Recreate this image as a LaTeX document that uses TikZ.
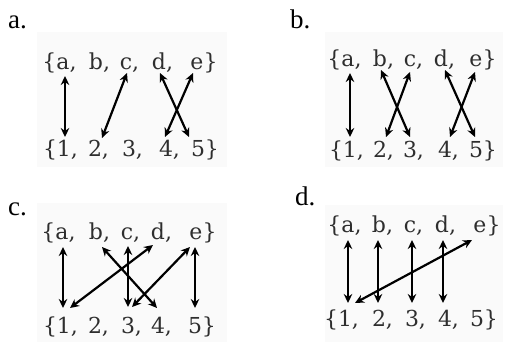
\documentclass[tikz,border=0pt]{standalone}
\usepackage{fontspec}
\setmainfont{Liberation Serif}
\newfontfamily\setfont{DejaVu Serif}
\usetikzlibrary{arrows.meta,calc}
\begin{document}
\begin{tikzpicture}[x=1pt,y=-1pt,
  lt/.style={anchor=base,inner sep=0pt,text=black!82,font=\setfont\fontsize{22}{26}\selectfont},
  lbl/.style={anchor=base west,inner sep=0pt,font=\fontsize{27}{30}\selectfont},
  arr/.style={line width=2.2pt,{Stealth[length=9pt,width=8.5pt]}-{Stealth[length=9pt,width=8.5pt]}},
  bgbox/.style={fill=black!2,draw=none}]
\useasboundingbox (0,0) rectangle (506,343);
% faint scanned backgrounds
\fill[bgbox] (37,32) rectangle (227,167);
\fill[bgbox] (325,32) rectangle (503,167);
\fill[bgbox] (37,203) rectangle (227,342);
\fill[bgbox] (325,205) rectangle (503,342);
% labels
\node[lbl] (la) at (8,28) {a.};
\node[lbl] (lb) at (290,28) {b.};
\node[lbl] (lc) at (8,215) {c.};
\node[lbl] (ld) at (295,205) {d.};
% ---------- panel a ----------
\node[lt] (aa) at (63,69) {\llap{\{}a\rlap{,}};
\node[lt] (ab) at (96,69) {b\rlap{,}};
\node[lt] (ac) at (126,69) {c\rlap{,}};
\node[lt] (ad) at (159,69) {d\rlap{,}};
\node[lt] (ae) at (197,69) {e\rlap{\}}};
\node[lt] (a1) at (64,156) {\llap{\{}1\rlap{,}};
\node[lt] (a2) at (95,156) {2\rlap{,}};
\node[lt] (a3) at (129,156) {3\rlap{,}};
\node[lt] (a4) at (166,156) {4\rlap{,}};
\node[lt] (a5) at (198,156) {5\rlap{\}}};
\draw[arr] ($(aa.base)+(2,7)$) -- ($(a1.base)+(1,-19)$);
\draw[arr] ($(ac.base)+(1,4)$) -- ($(a2.base)+(7,-18)$);
\draw[arr] ($(ad.base)+(1,4)$) -- ($(a5.base)+(-9,-19)$);
\draw[arr] ($(ae.base)+(-4,4)$) -- ($(a4.base)+(-1,-19)$);
% ---------- panel b ----------
\node[lt] (ba) at (348,66) {\llap{\{}a\rlap{,}};
\node[lt] (bb) at (380,66) {b\rlap{,}};
\node[lt] (bc) at (410,66) {c\rlap{,}};
\node[lt] (bd) at (441,66) {d\rlap{,}};
\node[lt] (be) at (476,66) {e\rlap{\}}};
\node[lt] (b1) at (350,157) {\llap{\{}1\rlap{,}};
\node[lt] (b2) at (380,157) {2\rlap{,}};
\node[lt] (b3) at (410,157) {3\rlap{,}};
\node[lt] (b4) at (445,157) {4\rlap{,}};
\node[lt] (b5) at (476,157) {5\rlap{\}}};
\draw[arr] ($(ba.base)+(2,7)$) -- ($(b1.base)+(0,-20)$);
\draw[arr] ($(bb.base)+(1,4)$) -- ($(b3.base)+(0,-20)$);
\draw[arr] ($(bc.base)+(0,6)$) -- ($(b2.base)+(6,-20)$);
\draw[arr] ($(bd.base)+(4,4)$) -- ($(b5.base)+(-1,-20)$);
\draw[arr] ($(be.base)+(-1,6)$) -- ($(b4.base)+(5,-20)$);
% ---------- panel c ----------
\node[lt] (ca) at (62,239) {\llap{\{}a\rlap{,}};
\node[lt] (cb) at (96,239) {b\rlap{,}};
\node[lt] (cc) at (127,239) {c\rlap{,}};
\node[lt] (cd) at (158,239) {d\rlap{,}};
\node[lt] (ce) at (196,239) {e\rlap{\}}};
\node[lt] (c1) at (64,333) {\llap{\{}1\rlap{,}};
\node[lt] (c2) at (95,333) {2\rlap{,}};
\node[lt] (c3) at (128,333) {3\rlap{,}};
\node[lt] (c4) at (158,333) {4\rlap{,}};
\node[lt] (c5) at (195,333) {5\rlap{\}}};
\draw[arr] ($(ca.base)+(1,8)$) -- ($(c1.base)+(-1,-25)$);
\draw[arr] ($(cb.base)+(6,8)$) -- ($(c4.base)+(-1,-25)$);
\draw[arr] ($(cc.base)+(1,7)$) -- ($(c3.base)+(0,-26)$);
\draw[arr] ($(cd.base)+(-5,6)$) -- ($(c1.base)+(6,-25)$);
\draw[arr] ($(ce.base)+(-6,8)$) -- ($(c3.base)+(4,-26)$);
\draw[arr] ($(ce.base)+(-1,8)$) -- ($(c5.base)+(0,-25)$);
% ---------- panel d ----------
\node[lt] (da) at (348,232) {\llap{\{}a\rlap{,}};
\node[lt] (db) at (379,232) {b\rlap{,}};
\node[lt] (dc) at (410,232) {c\rlap{,}};
\node[lt] (dd) at (442,232) {d\rlap{,}};
\node[lt] (de) at (480,232) {e\rlap{\}}};
\node[lt] (d1) at (345,326) {\llap{\{}1\rlap{,}};
\node[lt] (d2) at (379,326) {2\rlap{,}};
\node[lt] (d3) at (412,326) {3\rlap{,}};
\node[lt] (d4) at (445,326) {4\rlap{,}};
\node[lt] (d5) at (477,326) {5\rlap{\}}};
\draw[arr] ($(da.base)+(0,8)$) -- ($(d1.base)+(3,-23)$);
\draw[arr] ($(db.base)+(-1,8)$) -- ($(d2.base)+(-1,-23)$);
\draw[arr] ($(dc.base)+(2,8)$) -- ($(d3.base)+(0,-23)$);
\draw[arr] ($(dd.base)+(1,8)$) -- ($(d4.base)+(-2,-23)$);
\draw[arr] ($(d1.base)+(10,-23)$) -- ($(de.base)+(-8,8)$);
\end{tikzpicture}
\end{document}
